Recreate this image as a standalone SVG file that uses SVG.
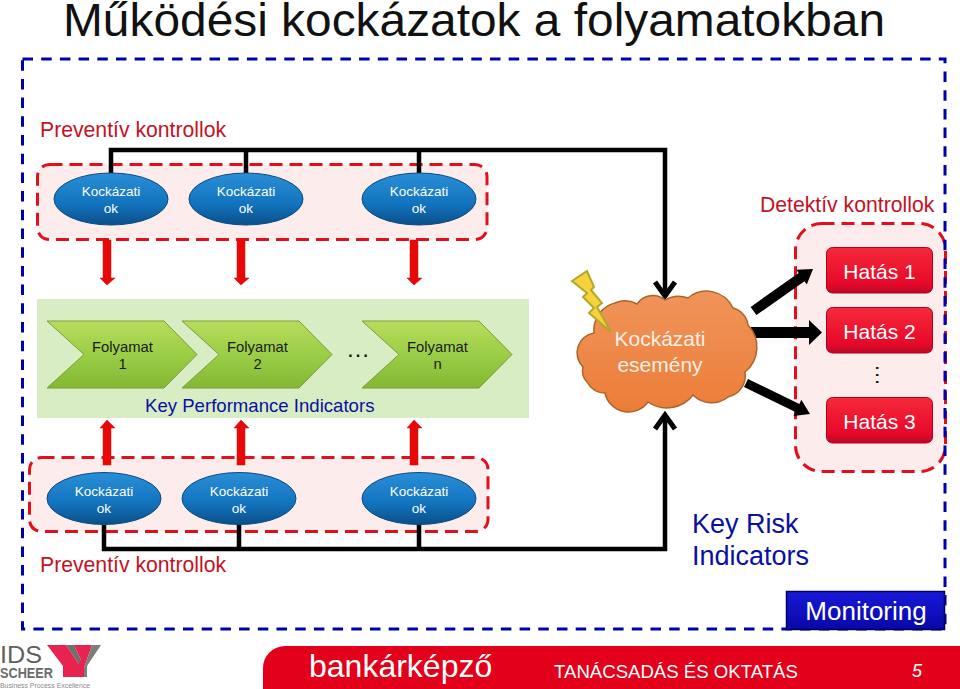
<svg xmlns="http://www.w3.org/2000/svg" width="960" height="689" viewBox="0 0 960 689">
<style>
text{font-family:"Liberation Sans",Arial,sans-serif}
.pink{fill:#fdecec;stroke:#e0101c;stroke-width:3;stroke-dasharray:13 7}
.el{fill:url(#gb);stroke:#0b4a80;stroke-width:1}
.elt{font-size:13.5px;fill:#fff;text-anchor:middle}
.ch{fill:url(#gg);stroke:#7d9c3a;stroke-width:1}
.cht{font-size:14.8px;fill:#1a1a1a;text-anchor:middle}
.hb{fill:url(#gr);stroke:#b00020;stroke-width:1}
.hbt{font-size:21px;fill:#fff;text-anchor:middle}
.red{font-size:21.2px;fill:#c4121f}
.blk{fill:none;stroke:#000;stroke-width:4.500}
.ra{fill:#e80808;stroke:#c41010;stroke-width:.5}
</style>
<defs>
<linearGradient id="gb" x1="0" y1="0" x2="0" y2="1"><stop offset="0" stop-color="#2a8fd8"/><stop offset=".6" stop-color="#1273bd"/><stop offset="1" stop-color="#0a4f8a"/></linearGradient>
<linearGradient id="gg" x1="0" y1="0" x2="0" y2="1"><stop offset="0" stop-color="#b8dc5c"/><stop offset=".55" stop-color="#98cc44"/><stop offset="1" stop-color="#84b834"/></linearGradient>
<linearGradient id="gr" x1="0" y1="0" x2="0" y2="1"><stop offset="0" stop-color="#f52a3a"/><stop offset=".8" stop-color="#e8082a"/><stop offset="1" stop-color="#b80a24"/></linearGradient>
<linearGradient id="go" x1="0" y1="0" x2="0" y2="1"><stop offset="0" stop-color="#f0945a"/><stop offset="1" stop-color="#ec7d38"/></linearGradient>
<linearGradient id="gm" x1="0" y1="0" x2="0" y2="1"><stop offset="0" stop-color="#1818d8"/><stop offset="1" stop-color="#0808a8"/></linearGradient>
</defs>

<text x="63" y="36" font-size="46" fill="#111" textLength="822" lengthAdjust="spacingAndGlyphs">Működési kockázatok a folyamatokban</text>

<g id="preventiv-top">
<rect class="pink" x="37.500" y="164.500" width="449.500" height="75" rx="12"/>
<text class="red" x="40" y="137">Preventív kontrollok</text>
</g>
<g id="preventiv-bottom">
<rect class="pink" x="29.500" y="457.500" width="458.500" height="74" rx="12"/>
<text class="red" x="40" y="572">Preventív kontrollok</text>
</g>
<g id="detektiv">
<rect class="pink" x="795.500" y="223.500" width="150" height="248" rx="26"/>
<text class="red" x="760" y="212">Detektív kontrollok</text>
</g>
<rect x="22.500" y="59" width="922.500" height="570" fill="none" stroke="#0000a8" stroke-width="3" stroke-dasharray="10.500 8.200"/>
<g id="kpi">
<rect x="37" y="299" width="492" height="119" fill="#d9edc4"/>
<text x="145" y="412" font-size="18.600" fill="#0a10a0">Key Performance Indicators</text>
<text x="358" y="357" font-size="24" fill="#111" text-anchor="middle">…</text>
</g>

<g id="connectors">
<path class="blk" d="M111 173V150H665V294M246 150V173M419 150V173"/>
<path d="M655 282L665 296L675 282" fill="none" stroke="#000" stroke-width="5"/>
<path class="blk" d="M104 524V549H665V416M239 524V549M419 524V549"/>
<path d="M655 429L665 415L675 429" fill="none" stroke="#000" stroke-width="5"/>
<path class="ra" d="M103 240h8v38h4l-8 7-7-7h3zM237 240h8v38h4l-8 7-7-7h3zM410 240h8v38h4l-8 7-7-7h3z"/>
<path class="ra" d="M103 465h8v-37h4l-8-8-7 8h3zM237 465h8v-37h4l-8-8-7 8h3zM410 465h8v-37h4l-8-8-7 8h3z"/>
<path d="M750.600 306.900L798.700 273L796.400 269.700L813 269L806.800 284.500L804.500 281.200L756.400 315.100Z" fill="#000"/>
<path d="M751 327H809V320L822 332.500L809 345V338H751Z" fill="#000"/>
<path d="M748 379L799.400 403.900L801.300 399.800L810 414L793.500 416L795.400 412L744 387Z" fill="#000"/>
</g>

<g id="ok-t1"><ellipse class="el" cx="111" cy="199" rx="57" ry="26"/><text class="elt" x="111" y="196">Kockázati</text><text class="elt" x="111" y="213">ok</text></g>
<g id="ok-t2"><ellipse class="el" cx="246" cy="199" rx="57" ry="26"/><text class="elt" x="246" y="196">Kockázati</text><text class="elt" x="246" y="213">ok</text></g>
<g id="ok-t3"><ellipse class="el" cx="419" cy="199" rx="57" ry="26"/><text class="elt" x="419" y="196">Kockázati</text><text class="elt" x="419" y="213">ok</text></g>
<g id="ok-b1"><ellipse class="el" cx="104" cy="498.500" rx="57" ry="26"/><text class="elt" x="104" y="496">Kockázati</text><text class="elt" x="104" y="513">ok</text></g>
<g id="ok-b2"><ellipse class="el" cx="239" cy="498.500" rx="57" ry="26"/><text class="elt" x="239" y="496">Kockázati</text><text class="elt" x="239" y="513">ok</text></g>
<g id="ok-b3"><ellipse class="el" cx="419" cy="498.500" rx="57" ry="26"/><text class="elt" x="419" y="496">Kockázati</text><text class="elt" x="419" y="513">ok</text></g>

<g id="proc-1"><path class="ch" d="M47 321H164L197 354.500L164 388H47L84 354.500Z"/><text class="cht" x="122.500" y="352">Folyamat</text><text class="cht" x="122.500" y="369">1</text></g>
<g id="proc-2"><path class="ch" d="M182 321H299L332 354.500L299 388H182L219 354.500Z"/><text class="cht" x="257.500" y="352">Folyamat</text><text class="cht" x="257.500" y="369">2</text></g>
<g id="proc-n"><path class="ch" d="M362 321H479L512 354.500L479 388H362L399 354.500Z"/><text class="cht" x="437.500" y="352">Folyamat</text><text class="cht" x="437.500" y="369">n</text></g>

<g id="cloud">
<path d="M665 300A27 27 0 0 1 688 298A29 29 0 0 1 733 308A20 20 0 0 1 748 325A32 32 0 0 1 745 372A22 22 0 0 1 728 397A26 26 0 0 1 693 395A33 33 0 0 1 648 402A24 24 0 0 1 605 393A21 21 0 0 1 587 382A16 16 0 0 1 583 367A20 20 0 0 1 594 333A28 28 0 0 1 615 303A24 24 0 0 1 637 304A19 19 0 0 1 665 300Z" fill="url(#go)" stroke="#a8652c" stroke-width="1.500"/>
<path d="M572 281L587 271L594 287L591 290L602 303L597 307L611 332L589 313L594 308L583 297L587 293Z" fill="#f7d23c" stroke="#b0a82c" stroke-width="2"/>
<text class="hbt" x="660" y="346" style="fill:#fdf0e4">Kockázati</text>
<text class="hbt" x="660" y="372" style="fill:#fdf0e4">esemény</text>
</g>

<g id="hatas-1"><rect class="hb" x="826.500" y="247.500" width="106" height="45.500" rx="6"/><text class="hbt" x="879.500" y="279">Hatás 1</text></g>
<g id="hatas-2"><rect class="hb" x="826.500" y="307.500" width="106" height="45.500" rx="6"/><text class="hbt" x="879.500" y="339">Hatás 2</text></g>
<text x="0" y="0" font-size="22" fill="#111" text-anchor="middle" transform="translate(875.500 375) rotate(90)">…</text>
<g id="hatas-3"><rect class="hb" x="826.500" y="397.500" width="106" height="45.500" rx="6"/><text class="hbt" x="879.500" y="429">Hatás 3</text></g>

<text x="692" y="533" font-size="27" fill="#0a10a0">Key Risk</text>
<text x="692" y="565" font-size="27" fill="#0a10a0">Indicators</text>

<g id="monitoring">
<rect x="786.500" y="591.500" width="158" height="38" fill="url(#gm)" stroke="#000058" stroke-width="1.500"/>
<text x="866" y="620" font-size="26" fill="#fff" text-anchor="middle">Monitoring</text>
</g>

<g id="logo">
<text x="0" y="663" font-size="24" fill="#5f5f5f" textLength="42" lengthAdjust="spacingAndGlyphs">IDS</text>
<text x="0" y="677.500" font-size="14" font-weight="bold" fill="#6a6a6a" textLength="53" lengthAdjust="spacingAndGlyphs">SCHEER</text>
<text x="0" y="688" font-size="7.500" fill="#8a8a8a" textLength="90" lengthAdjust="spacingAndGlyphs">Business Process Excellence</text>
<path d="M47 645H66L79 664V677H63V666Z" fill="#e8234f"/>
<path d="M66 645H74L81 660V670L79 664Z" fill="#6f6f6f"/>
<path d="M74 645H92L84 668V677H79V664L81 660Z" fill="#e8234f"/>
<path d="M92 645H101L87 666V677H84V668Z" fill="#7d7d7d"/>
</g>

<g id="footer">
<path d="M263 689V668A22 22 0 0 1 285 646H960V689Z" fill="#e2001a"/>
<text x="309" y="677" font-size="32" fill="#fff">bankárképző</text>
<text x="554" y="678" font-size="18.600" fill="#fff">TANÁCSADÁS ÉS OKTATÁS</text>
<text x="912" y="677" font-size="18" font-style="italic" fill="#fff">5</text>
</g>
</svg>
